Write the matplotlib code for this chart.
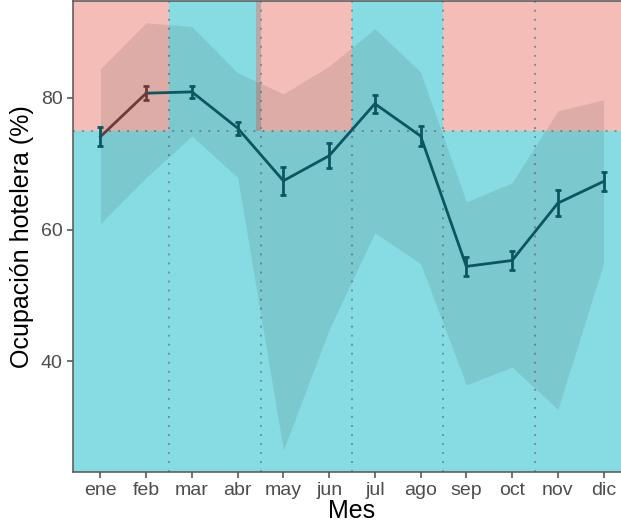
import numpy as np
import matplotlib.pyplot as plt

plt.rcParams['font.family'] = ['Liberation Sans', 'DejaVu Sans']

meses = ['ene', 'feb', 'mar', 'abr', 'may', 'jun',
         'jul', 'ago', 'sep', 'oct', 'nov', 'dic']
ocupacion = [74.1, 80.7, 80.9, 75.4, 67.4, 71.2, 79.1, 74.2, 54.4, 55.3, 64.0, 67.3]
error = [1.4, 1.1, 0.9, 1.0, 2.1, 1.9, 1.4, 1.5, 1.4, 1.4, 2.0, 1.4]
maximo = [84.4, 91.4, 90.8, 83.8, 80.6, 84.8, 90.5, 83.9, 64.2, 67.1, 78.0, 79.7]
minimo = [60.9, 67.9, 74.2, 67.9, 26.5, 44.8, 59.5, 54.8, 36.4, 39.1, 32.7, 54.8]
umbral = 75
# tramos bimestrales por encima del umbral: True = alta ocupacion
tramos = [(0.4, 2.5, True), (2.5, 4.5, False), (4.41, 6.5, True),
          (6.5, 8.5, False), (8.5, 10.5, True), (10.5, 12.6, True)]

rojo = '#F4BDB7'
cian = '#87DCE3'
x = np.arange(1, 13)

fig = plt.figure(figsize=(6.21, 5.31), dpi=100)
ax = fig.add_axes([73 / 621, 59 / 531, 558 / 621, 471 / 531])
ax.set_xlim(0.4, 12.6)
ax.set_ylim(23.18, 94.7)

# fondo: todo cian bajo el umbral, arriba segun el tramo
ax.axhspan(0, umbral, color=cian, lw=0, zorder=0)
for x0, x1, alto in tramos:
    ax.fill_between([x0, x1], umbral, 100, color=rojo if alto else cian,
                    lw=0, zorder=0)
# solape entre tramos abr/may
ax.fill_between([4.41, 4.5], umbral, 100, color='#B3AAA9', lw=0, zorder=0)

for xv in [2.5, 4.5, 6.5, 8.5, 10.5]:
    ax.axvline(xv, color='#6a8a90', ls=(0, (1, 4)), lw=1.3, zorder=1)
ax.axhline(umbral, color='#6a8a90', ls=(0, (1, 4)), lw=1.3, zorder=1)

ax.fill_between(x, minimo, maximo, color='black', alpha=0.085, lw=0, zorder=2)

azul = '#0b5660'
marron = '#6e3a36'
ax.plot(x[1:], ocupacion[1:], color=azul, lw=2, zorder=3)
ax.plot(x[:2], ocupacion[:2], color=marron, lw=2, zorder=3)
ax.errorbar(x[2:], ocupacion[2:], yerr=error[2:], fmt='none', ecolor=azul,
            elinewidth=2, capsize=2.5, capthick=2, zorder=4)
ax.errorbar(x[:1], ocupacion[:1], yerr=error[:1], fmt='none', ecolor=azul,
            elinewidth=2, capsize=2.5, capthick=2, zorder=4)
ax.errorbar(x[1:2], ocupacion[1:2], yerr=error[1:2], fmt='none', ecolor=marron,
            elinewidth=2, capsize=2.5, capthick=2, zorder=4)

ax.set_xticks(x)
ax.set_xticklabels(meses)
ax.set_yticks([40, 60, 80])
ax.tick_params(colors='#4d4d4d', labelsize=14, length=4, width=1.1)
ax.tick_params(axis='x', pad=3)
for s in ax.spines.values():
    s.set_color('#555555')
    s.set_linewidth(1.1)
ax.set_xlabel('Mes', fontsize=18, labelpad=0)
ax.set_ylabel('Ocupación hotelera (%)', fontsize=18, labelpad=5)

fig.savefig('out.png', dpi=100)
